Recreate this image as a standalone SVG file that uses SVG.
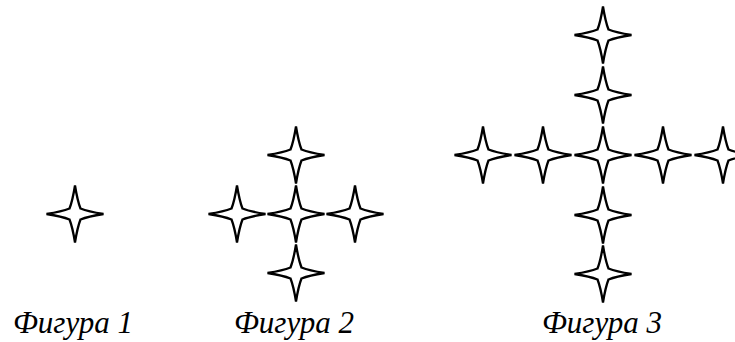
<svg xmlns="http://www.w3.org/2000/svg" xmlns:xlink="http://www.w3.org/1999/xlink" width="735" height="342" viewBox="0 0 735 342">
<style>
.star{fill:#fff;stroke:#000;stroke-width:2.3;stroke-linejoin:miter;stroke-miterlimit:5}
.lbl{font-family:"Liberation Serif","Times New Roman",serif;font-style:italic;font-size:31px;fill:#000;text-anchor:middle}
</style>
<defs>
<path id="s" class="star" d="M0,-28.5 Q2.5,-13 5.5,-5.5 Q13,-2.5 28.5,0 Q13,2.5 5.5,5.5 Q2.5,13 0,28.5 Q-2.5,13 -5.5,5.5 Q-13,2.5 -28.5,0 Q-13,-2.5 -5.5,-5.5 Q-2.5,-13 0,-28.5 Z"/>
</defs>
<g id="fig1">
<use xlink:href="#s" x="75" y="214"/>
</g>
<g id="fig2">
<use xlink:href="#s" x="296" y="155"/>
<use xlink:href="#s" x="237" y="214"/>
<use xlink:href="#s" x="296" y="214"/>
<use xlink:href="#s" x="355" y="214"/>
<use xlink:href="#s" x="296" y="273"/>
</g>
<g id="fig3">
<use xlink:href="#s" x="603" y="35"/>
<use xlink:href="#s" x="603" y="95"/>
<use xlink:href="#s" x="483" y="155"/>
<use xlink:href="#s" x="543" y="155"/>
<use xlink:href="#s" x="603" y="155"/>
<use xlink:href="#s" x="663" y="155"/>
<use xlink:href="#s" x="723" y="155"/>
<use xlink:href="#s" x="603" y="215"/>
<use xlink:href="#s" x="603" y="274"/>
</g>
<g id="labels">
<text class="lbl" x="73" y="333">Фигура 1</text>
<text class="lbl" x="294" y="333">Фигура 2</text>
<text class="lbl" x="602" y="333">Фигура 3</text>
</g>
</svg>
